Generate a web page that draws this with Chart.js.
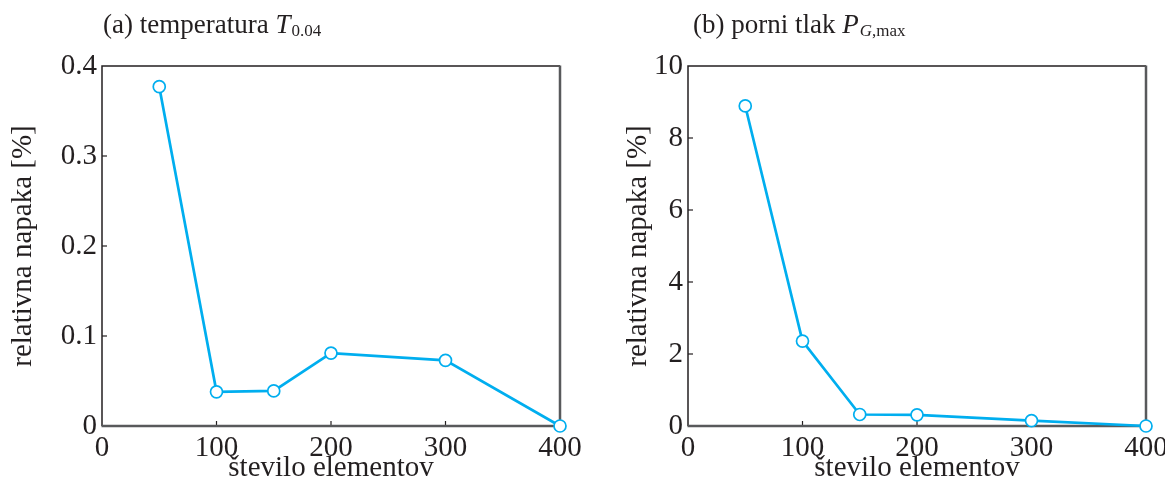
<!DOCTYPE html>
<html>
<head>
<meta charset="utf-8">
<script src="https://cdn.jsdelivr.net/npm/chart.js@4"></script>
<style>
  html, body { margin: 0; padding: 0; background: #ffffff; }
  body { width: 1165px; height: 481px; position: relative; overflow: hidden; }
  .panel { position: absolute; top: 0; height: 481px; }
  #pa { left: 0; width: 582px; }
  #pb { left: 582px; width: 583px; }
</style>
</head>
<body>
<div class="panel" id="pa"><canvas id="ca" width="582" height="481"></canvas></div>
<div class="panel" id="pb"><canvas id="cb" width="583" height="481"></canvas></div>
<script>
// ---- data ----
const elementCounts = [50, 100, 150, 200, 300, 400];
const temperatureError = [0.377, 0.038, 0.039, 0.081, 0.073, 0.0];
const pressureError = [8.89, 2.36, 0.32, 0.31, 0.15, 0.0];
const xTicks = [0, 100, 200, 300, 400];
const yTicksA = [0, 0.1, 0.2, 0.3, 0.4];
const yTicksB = [0, 2, 4, 6, 8, 10];
const xAxisTitle = 'število elementov';
const yAxisTitle = 'relativna napaka [%]';
const titleA = [{t: '(a) temperatura ', s: 'n'}, {t: 'T', s: 'i'}, {t: '0.04', s: 'sub'}];
const titleB = [{t: '(b) porni tlak ', s: 'n'}, {t: 'P', s: 'i'}, {t: 'G', s: 'subi'}, {t: ',max', s: 'sub'}];

const FONT = '"Liberation Serif", "Times New Roman", serif';
const TXT = '#231f20';
const LINE = '#00aeef';

const boxPlugin = {
  id: 'box',
  beforeDatasetsDraw(chart) {
    const {ctx, chartArea: a, scales} = chart;
    ctx.save();
    ctx.strokeStyle = TXT;
    ctx.lineWidth = 1.2;
    const xs = scales.x, ys = scales.y;
    xs.ticks.forEach(t => {
      const px = xs.getPixelForValue(t.value);
      if (Math.abs(px - a.left) < 1 || Math.abs(px - a.right) < 1) return;
      ctx.beginPath(); ctx.moveTo(px, a.bottom); ctx.lineTo(px, a.bottom - 5); ctx.stroke();
    });
    ys.ticks.forEach(t => {
      const py = ys.getPixelForValue(t.value);
      if (Math.abs(py - a.top) < 1 || Math.abs(py - a.bottom) < 1) return;
      ctx.beginPath(); ctx.moveTo(a.left, py); ctx.lineTo(a.left + 5, py); ctx.stroke();
    });
    ctx.strokeStyle = '#231f20';
    ctx.lineWidth = 1.5;
    ctx.beginPath();
    ctx.moveTo(a.left, a.bottom); ctx.lineTo(a.left, a.top); ctx.lineTo(a.right, a.top);
    ctx.stroke();
    ctx.strokeStyle = '#58595b';
    ctx.lineWidth = 2.5;
    ctx.beginPath();
    ctx.moveTo(a.left - 0.5, a.bottom); ctx.lineTo(a.right, a.bottom); ctx.lineTo(a.right, a.top - 0.5);
    ctx.stroke();
    ctx.restore();
  }
};

function titlePlugin(parts, x0, baseline) {
  return {
    id: 'rtitle',
    afterDraw(chart) {
      const ctx = chart.ctx;
      ctx.save();
      ctx.fillStyle = TXT;
      ctx.textBaseline = 'alphabetic';
      ctx.textAlign = 'left';
      let x = x0;
      parts.forEach(p => {
        let y = baseline;
        if (p.s === 'n') ctx.font = '27px ' + FONT;
        else if (p.s === 'i') ctx.font = 'italic 27px ' + FONT;
        else if (p.s === 'sub') { ctx.font = '17px ' + FONT; y = baseline + 3; }
        else if (p.s === 'subi') { ctx.font = 'italic 17px ' + FONT; y = baseline + 3; }
        ctx.fillText(p.t, x, y);
        x += ctx.measureText(p.t).width + (p.s === 'i' ? 1 : 0);
      });
      ctx.restore();
    }
  };
}

function makeChart(canvasId, values, yMax, yTickList, plotLeft, plotRight, canvasW, yTitlePad, parts, titleX) {
  return new Chart(document.getElementById(canvasId), {
    type: 'line',
    data: {
      datasets: [{
        data: elementCounts.map((x, i) => ({x: x, y: values[i]})),
        borderColor: LINE,
        borderWidth: 2.7,
        pointRadius: 6,
        pointBorderWidth: 1.7,
        pointBorderColor: LINE,
        pointBackgroundColor: '#ffffff',
        tension: 0,
        clip: false,
        fill: false
      }]
    },
    options: {
      responsive: false,
      animation: false,
      events: [],
      layout: { padding: { left: 0, top: 66, right: canvasW - plotRight, bottom: 0 } },
      plugins: { legend: { display: false }, tooltip: { enabled: false }, title: { display: false } },
      scales: {
        x: {
          type: 'linear',
          min: xTicks[0], max: xTicks[xTicks.length - 1],
          afterBuildTicks(s) { s.ticks = xTicks.map(v => ({value: v})); },
          afterFit(s) { s.height = 481 - 426; s.paddingLeft = 0; s.paddingRight = 0; },
          grid: { display: false, drawTicks: false },
          border: { display: false },
          ticks: { color: TXT, font: { family: FONT, size: 29 }, padding: 5, maxRotation: 0, autoSkip: false },
          title: { display: true, text: xAxisTitle, color: TXT, font: { family: FONT, size: 29 }, padding: { top: 0, bottom: -5 } }
        },
        y: {
          type: 'linear',
          min: 0, max: yMax,
          afterBuildTicks(s) { s.ticks = yTickList.map(v => ({value: v})); },
          afterFit(s) { s.width = plotLeft; s.paddingTop = 0; s.paddingBottom = 0; },
          grid: { display: false, drawTicks: false },
          border: { display: false },
          ticks: { color: TXT, font: { family: FONT, size: 29 }, padding: 5, autoSkip: false },
          title: { display: true, text: yAxisTitle, color: TXT, font: { family: FONT, size: 29 }, padding: { top: yTitlePad, bottom: 0 } }
        }
      }
    },
    plugins: [boxPlugin, titlePlugin(parts, titleX, 33)]
  });
}

makeChart('ca', temperatureError, 0.4, yTicksA, 102, 560, 582, 5.5, titleA, 103);
makeChart('cb', pressureError, 10, yTicksB, 106, 564, 583, 38.5, titleB, 111);
</script>
</body>
</html>
